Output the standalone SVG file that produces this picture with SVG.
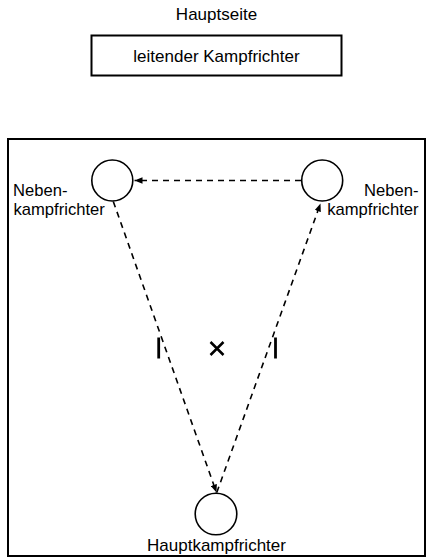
<svg xmlns="http://www.w3.org/2000/svg" width="426" height="557" viewBox="0 0 426 557">
<style>
text { font-family: "Liberation Sans", Arial, sans-serif; font-size: 17px; fill: #000; }
.c { text-anchor: middle; }
.r { text-anchor: end; }
.lbl { font-size: 16.6px; }
.judge { fill: #fff; stroke: #000; stroke-width: 1.6; }
.conn { fill: none; stroke: #000; stroke-width: 1.6; stroke-dasharray: 6 5; }
.mark { stroke: #000; fill: none; }
</style>
<defs>
<marker id="arr" viewBox="0 0 10 8" refX="10" refY="4" markerWidth="8" markerHeight="6.4" markerUnits="userSpaceOnUse" orient="auto">
<path d="M0,0 L10,4 L0,8 Z" fill="#000"/>
</marker>
</defs>
<rect width="426" height="557" fill="#fff"/>
<g id="title">
<text class="c" x="216.5" y="20">Hauptseite</text>
</g>
<g id="leitender">
<rect x="91.5" y="35.5" width="250" height="40" fill="#fff" stroke="#000" stroke-width="2"/>
<text class="c" x="216.5" y="62">leitender Kampfrichter</text>
</g>
<g id="field">
<rect x="8" y="139" width="417" height="417" fill="none" stroke="#000" stroke-width="2"/>
</g>
<g id="connectors">
<line class="conn" x1="301" y1="180.5" x2="134.5" y2="180.5" marker-end="url(#arr)"/>
<line class="conn" x1="113.3" y1="201.5" x2="216.5" y2="492.5" marker-end="url(#arr)"/>
<line class="conn" x1="216.8" y1="492.5" x2="320.5" y2="203.5" marker-end="url(#arr)"/>
</g>
<g id="neben-links">
<circle class="judge" cx="112.3" cy="180.5" r="20.5"/>
<text class="lbl" x="13" y="195.5">Neben-</text>
<text class="lbl" x="13.5" y="214.8">kampfrichter</text>
</g>
<g id="neben-rechts">
<circle class="judge" cx="322.2" cy="180.5" r="20.5"/>
<text class="lbl r" x="418.5" y="195.5">Neben-</text>
<text class="lbl r" x="418.5" y="214.8">kampfrichter</text>
</g>
<g id="haupt">
<circle class="judge" cx="216" cy="514" r="20.8"/>
<text class="c" x="216.5" y="550.5">Hauptkampfrichter</text>
</g>
<g id="markings">
<line class="mark" x1="158.7" y1="337.5" x2="158.7" y2="358.5" stroke-width="2.8"/>
<line class="mark" x1="275.5" y1="337.5" x2="275.5" y2="358.5" stroke-width="2.8"/>
<path class="mark" d="M210.5,342 L223.5,355 M223.5,342 L210.5,355" stroke-width="2.5"/>
</g>
</svg>
